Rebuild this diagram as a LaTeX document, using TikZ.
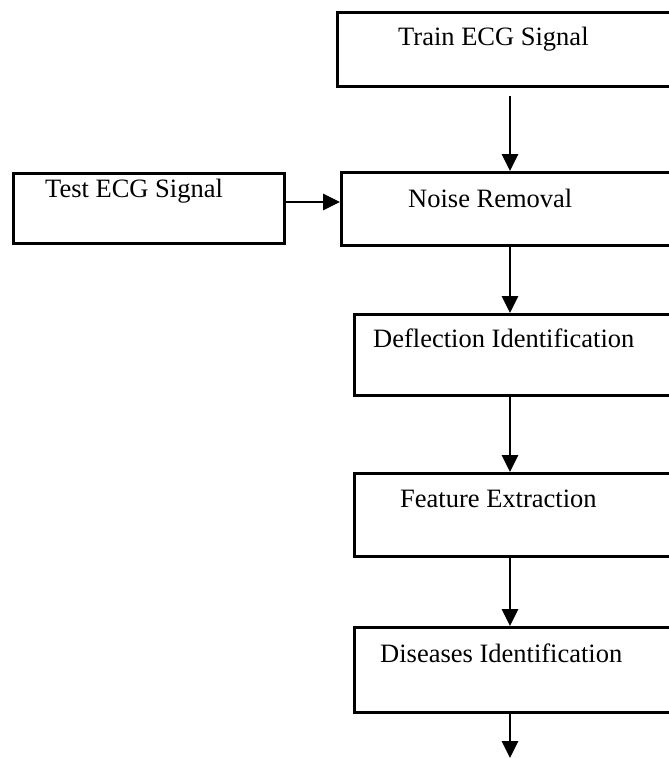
\documentclass[tikz,border=0pt]{standalone}
\usepackage{fontspec}
\setmainfont{Liberation Serif}
\usetikzlibrary{arrows.meta}
\begin{document}
\begin{tikzpicture}[x=1pt,y=-1pt,
  box/.style={draw=black, line width=2.8pt, rectangle, inner sep=0pt, anchor=north west},
  lbl/.style={anchor=base west, inner sep=0pt, font=\fontsize{26.5}{30}\selectfont},
  arr/.style={line width=2.8pt, -{Triangle[length=17pt,width=16pt]}}]
\useasboundingbox (0,0) rectangle (669,758);
\clip (0,0) rectangle (669,758);
\fill[white] (0,0) rectangle (669,758);
% boxes
\node[box, minimum width=354pt, minimum height=74pt] (train) at (336,11) {};
\node[box, minimum width=350pt, minimum height=73pt] (noise) at (340,171) {};
\node[box, minimum width=271pt, minimum height=70pt] (test) at (12,172) {};
\node[box, minimum width=337pt, minimum height=81pt] (defl) at (353,313) {};
\node[box, minimum width=337pt, minimum height=83pt] (feat) at (353,472) {};
\node[box, minimum width=337pt, minimum height=85pt] (dis) at (353,626) {};
% labels
\node[lbl] (ttrain) at (398,45) {Train ECG Signal};
\node[lbl] (tnoise) at (408,207) {Noise Removal};
\node[lbl] (ttest) at (45,197) {Test ECG Signal};
\node[lbl] (tdefl) at (373,347) {Deflection Identification};
\node[lbl] (tfeat) at (400,507) {Feature Extraction};
\node[lbl] (tdis) at (380,662) {Diseases Identification};
% connectors
\coordinate (ax) at (510,0);
\coordinate (tstart) at (510,96);
\coordinate (tend) at (510,758);
\draw[arr] (tstart) -- (noise.north -| ax);
\draw[arr] (test.east |- 0,202) -- (noise.west |- 0,202);
\draw[arr] (noise.south -| ax) -- (defl.north -| ax);
\draw[arr] (defl.south -| ax) -- (feat.north -| ax);
\draw[arr] (feat.south -| ax) -- (dis.north -| ax);
\draw[arr] (dis.south -| ax) -- (tend);
\end{tikzpicture}
\end{document}
